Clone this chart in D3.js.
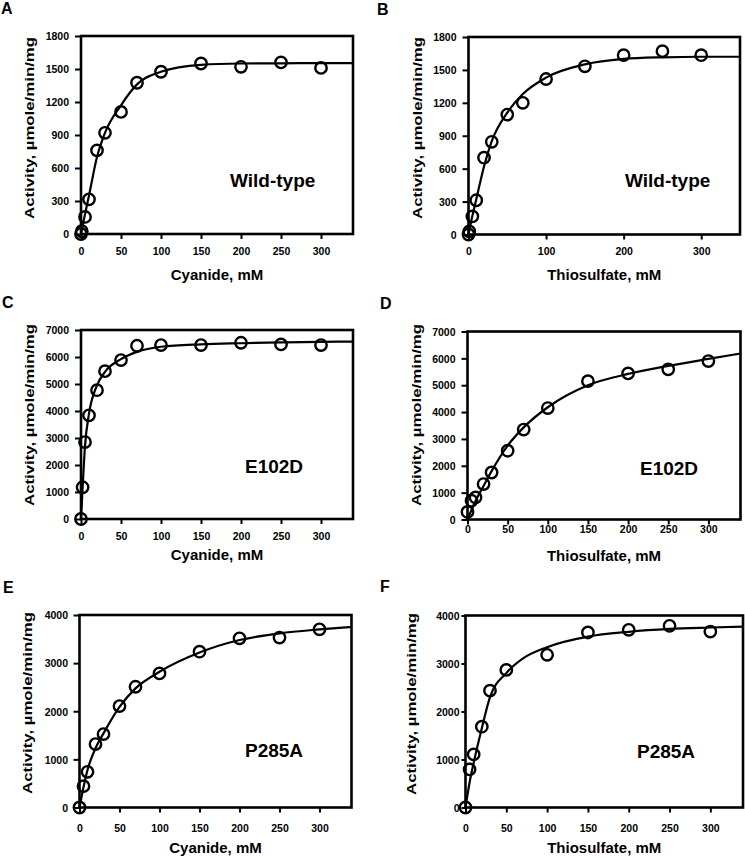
<!DOCTYPE html>
<html>
<head>
<meta charset="utf-8">
<script src="https://cdnjs.cloudflare.com/ajax/libs/d3/7.8.5/d3.min.js"></script>
<style>
  html, body { margin: 0; padding: 0; background: #fff; }
  svg { display: block; }
  text { font-family: Arial, "Liberation Sans", sans-serif; font-weight: bold; fill: #000; }
</style>
</head>
<body>
<svg id="chart" width="745" height="857"></svg>
<script>
// ---------- data ----------
const panelLetters = ["A", "B", "C", "D", "E", "F"];
const enzymeLabels = ["Wild-type", "Wild-type", "E102D", "E102D", "P285A", "P285A"];
const xTitles = ["Cyanide, mM", "Thiosulfate, mM", "Cyanide, mM", "Thiosulfate, mM", "Cyanide, mM", "Thiosulfate, mM"];
const yTitle = "Activity, µmole/min/mg";

const yTicksWT = [0, 300, 600, 900, 1200, 1500, 1800];
const yTicksE102D = [0, 1000, 2000, 3000, 4000, 5000, 6000, 7000];
const yTicksP285A = [0, 1000, 2000, 3000, 4000];
const xTicks50 = [0, 50, 100, 150, 200, 250, 300];
const xTicks100 = [0, 100, 200, 300];

// measured points
const concA = [0, 1, 5, 10, 20, 30, 50, 70, 100, 150, 200, 250, 300];
const actA  = [0, 25, 155, 315, 760, 920, 1110, 1375, 1475, 1550, 1520, 1560, 1510];
const concB = [0, 1, 5, 10, 20, 30, 50, 70, 100, 150, 200, 250, 300];
const actB  = [0, 28, 165, 312, 700, 845, 1093, 1200, 1417, 1533, 1634, 1671, 1634];
const concC = [0, 2, 5, 10, 20, 30, 50, 70, 100, 150, 200, 250, 300];
const actC  = [0, 1175, 2850, 3840, 4770, 5476, 5885, 6416, 6440, 6440, 6527, 6466, 6440];
const concD = [0, 5, 10, 20, 30, 50, 70, 100, 150, 200, 250, 300];
const actD  = [280, 700, 820, 1320, 1750, 2560, 3350, 4150, 5150, 5440, 5590, 5900];
const concE = [0, 5, 10, 20, 30, 50, 70, 100, 150, 200, 250, 300];
const actE  = [0, 443, 741, 1317, 1525, 2107, 2509, 2787, 3237, 3515, 3530, 3702];
const concF = [0, 5, 10, 20, 30, 50, 100, 150, 200, 250, 300];
const actF  = [0, 793, 1106, 1683, 2434, 2866, 3180, 3646, 3701, 3785, 3666];

// fitted curves
const fitXA = [0, 5, 10, 20, 30, 50, 70, 100, 150, 200, 250, 300, 340];
const fitYA = [0, 180, 350, 700, 920, 1170, 1360, 1475, 1538, 1550, 1552, 1553, 1553];
const fitXB = [0, 5, 10, 20, 30, 50, 70, 100, 150, 200, 250, 300, 350];
const fitYB = [0, 170, 320, 620, 850, 1110, 1280, 1430, 1550, 1600, 1615, 1620, 1620];
const fitXC = [0, 2, 5, 10, 20, 30, 50, 70, 100, 150, 200, 250, 300, 340];
const fitYC = [0, 1150, 2700, 3900, 4950, 5450, 5920, 6190, 6380, 6470, 6510, 6540, 6560, 6570];
const fitXD = [0, 10, 20, 30, 50, 70, 100, 150, 200, 250, 300, 340];
const fitYD = [0, 690, 1250, 1800, 2750, 3430, 4180, 5000, 5420, 5720, 5980, 6180];
const fitXE = [0, 5, 10, 20, 30, 50, 70, 100, 150, 200, 250, 300, 340];
const fitYE = [0, 420, 780, 1230, 1540, 2090, 2475, 2820, 3220, 3480, 3620, 3700, 3750];
const fitXF = [0, 5, 10, 20, 30, 50, 70, 100, 150, 200, 250, 300, 340];
const fitYF = [0, 520, 930, 1650, 2300, 2800, 3100, 3340, 3560, 3660, 3720, 3750, 3770];

// ---------- layout ----------
const panels = [
  { conc: concA, act: actA, fx: fitXA, fy: fitYA, xMax: 340, yMax: 1800, yTicks: yTicksWT, xTicks: xTicks50,
    xr: [81, 353], yr: [234, 36], letter: [1, 14], lab: [230, 187], yLabOff: 12, xLabBase: 255, xTitleBase: 280, yTitleX: 34, yTitleY: 128 },
  { conc: concB, act: actB, fx: fitXB, fy: fitYB, xMax: 350, yMax: 1800, yTicks: yTicksWT, xTicks: xTicks100,
    xr: [468.5, 740], yr: [234.5, 37], letter: [377, 15], lab: [625, 187], yLabOff: 12, xLabBase: 255, xTitleBase: 280, yTitleX: 422, yTitleY: 128 },
  { conc: concC, act: actC, fx: fitXC, fy: fitYC, xMax: 340, yMax: 7000, yTicks: yTicksE102D, xTicks: xTicks50,
    xr: [81, 353], yr: [519, 330], letter: [2, 308], lab: [245, 473], yLabOff: 12, xLabBase: 540, xTitleBase: 560, yTitleX: 34, yTitleY: 415 },
  { conc: concD, act: actD, fx: fitXD, fy: fitYD, xMax: 340, yMax: 7000, yTicks: yTicksE102D, xTicks: xTicks50,
    xr: [467.5, 740.5], yr: [519.5, 331.5], letter: [380, 309], lab: [640, 475], yLabOff: 12, xLabBase: 533, xTitleBase: 561, yTitleX: 421, yTitleY: 415 },
  { conc: concE, act: actE, fx: fitXE, fy: fitYE, xMax: 340, yMax: 4000, yTicks: yTicksP285A, xTicks: xTicks50,
    xr: [79.5, 351.5], yr: [807.5, 615], letter: [3, 593], lab: [245, 757], yLabOff: 11.5, xLabBase: 832, xTitleBase: 853, yTitleX: 32, yTitleY: 703 },
  { conc: concF, act: actF, fx: fitXF, fy: fitYF, xMax: 340, yMax: 4000, yTicks: yTicksP285A, xTicks: xTicks50,
    xr: [465.5, 743], yr: [807.5, 615.5], letter: [380, 592], lab: [637, 758], yLabOff: 6, xLabBase: 832, xTitleBase: 853, yTitleX: 416, yTitleY: 704 }
];

const svg = d3.select("#chart");

panels.forEach((p, i) => {
  const x = d3.scaleLinear().domain([0, p.xMax]).range(p.xr);
  const y = d3.scaleLinear().domain([0, p.yMax]).range(p.yr);
  const g = svg.append("g");

  // y axis ticks & labels
  const ya = g.append("g").attr("transform", `translate(${p.xr[0]},0)`)
    .call(d3.axisLeft(y).tickValues(p.yTicks).tickSize(p.yLabOff > 8 ? 6 : 4).tickSizeOuter(0).tickFormat(d3.format("d")));
  ya.select(".domain").remove();
  ya.selectAll(".tick line").attr("stroke", "#000").attr("stroke-width", 2);
  ya.selectAll(".tick text").attr("x", -p.yLabOff).attr("dy", "0.36em")
    .style("font-size", "10.5px").style("font-family", "Arial, 'Liberation Sans', sans-serif").style("font-weight", "bold");

  // x axis ticks & labels
  const xa = g.append("g").attr("transform", `translate(0,${p.yr[0]})`)
    .call(d3.axisBottom(x).tickValues(p.xTicks).tickSize(5).tickSizeOuter(0).tickFormat(d3.format("d")));
  xa.select(".domain").remove();
  xa.selectAll(".tick line").attr("stroke", "#000").attr("stroke-width", 2);
  xa.selectAll(".tick text").attr("y", p.xLabBase - p.yr[0]).attr("dy", null)
    .style("font-size", "10.5px").style("font-family", "Arial, 'Liberation Sans', sans-serif").style("font-weight", "bold");

  // frame
  g.append("rect")
    .attr("x", p.xr[0]).attr("y", p.yr[1])
    .attr("width", p.xr[1] - p.xr[0]).attr("height", p.yr[0] - p.yr[1])
    .attr("fill", "none").attr("stroke", "#000").attr("stroke-width", 2.6);

  // fitted curve
  const fit = p.fx.map((v, k) => [v, p.fy[k]]);
  g.append("path")
    .datum(fit)
    .attr("fill", "none").attr("stroke", "#000").attr("stroke-width", 2.2)
    .attr("d", d3.line().x(d => x(d[0])).y(d => y(d[1])).curve(d3.curveMonotoneX));

  // data points
  const pts = p.conc.map((v, k) => [v, p.act[k]]);
  g.selectAll("circle.pt").data(pts).enter().append("circle")
    .attr("class", "pt")
    .attr("cx", d => x(d[0])).attr("cy", d => y(d[1])).attr("r", 5.7)
    .attr("fill", "none").attr("stroke", "#000").attr("stroke-width", 2.4);

  // texts
  g.append("text").attr("x", p.letter[0]).attr("y", p.letter[1])
    .style("font-size", "16px").text(panelLetters[i]);
  g.append("text").attr("x", p.lab[0]).attr("y", p.lab[1])
    .style("font-size", "19px").text(enzymeLabels[i]);
  g.append("text").attr("x", (p.xr[0] + p.xr[1]) / 2).attr("y", p.xTitleBase)
    .attr("text-anchor", "middle").style("font-size", "15px").text(xTitles[i]);
  g.append("text")
    .attr("transform", `translate(${p.yTitleX},${p.yTitleY}) rotate(-90)`)
    .attr("text-anchor", "middle")
    .attr("textLength", 182).attr("lengthAdjust", "spacingAndGlyphs")
    .style("font-size", "13.5px").text(yTitle);
});
</script>
</body>
</html>
